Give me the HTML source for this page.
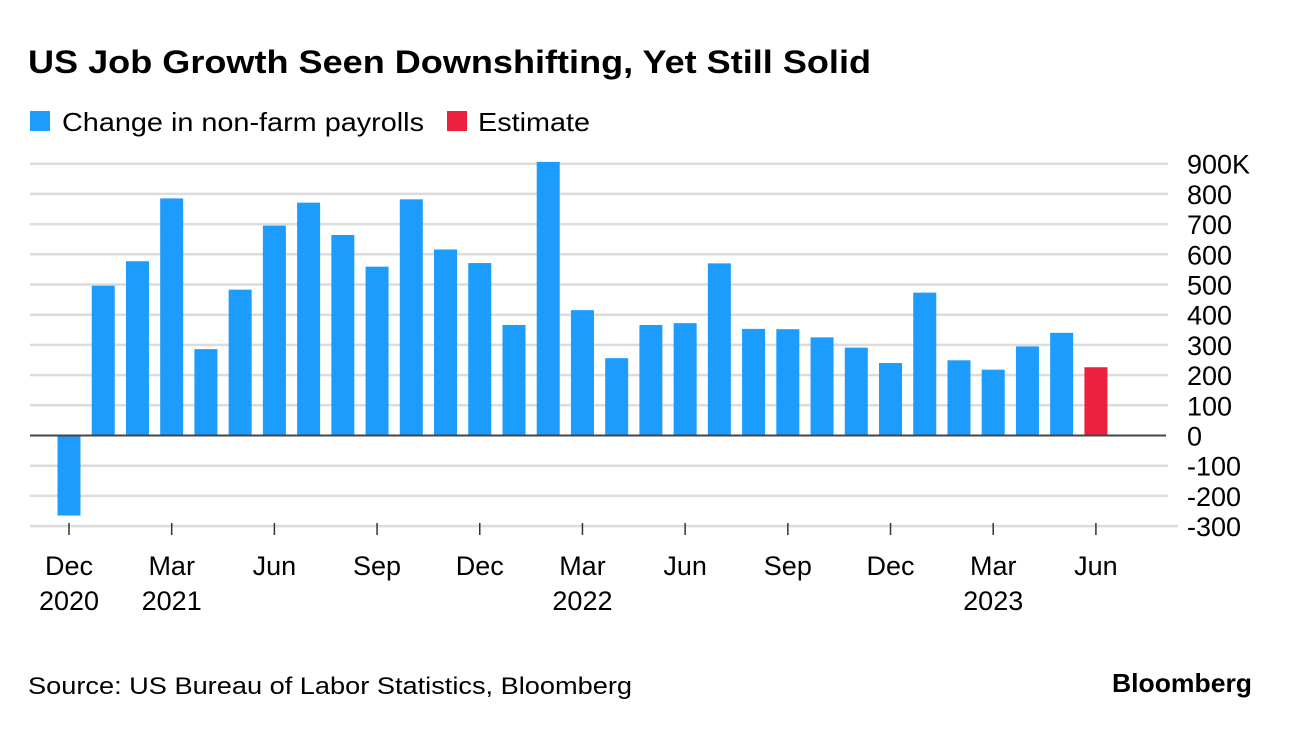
<!DOCTYPE html>
<html><head><meta charset="utf-8"><style>
body{margin:0;background:#fff;width:1292px;height:726px;overflow:hidden;font-family:"Liberation Sans",sans-serif;color:#000}
svg text{font-family:"Liberation Sans",sans-serif}
</style></head><body>
<svg width="1292" height="726">
<text x="28" y="73" font-size="32" font-weight="bold" textLength="843" lengthAdjust="spacingAndGlyphs">US Job Growth Seen Downshifting, Yet Still Solid</text>
<g>
<rect x="30" y="111" width="20" height="20" fill="#1c9cfc"/>
<text x="62" y="131" font-size="26" textLength="362" lengthAdjust="spacingAndGlyphs">Change in non-farm payrolls</text>
<rect x="447" y="111" width="20" height="20" fill="#ec2140"/>
<text x="478" y="131" font-size="26" textLength="112" lengthAdjust="spacingAndGlyphs">Estimate</text>
</g>
<g id="grid"></g><g id="bars"></g><g id="axes"></g>
<text x="28" y="694" font-size="24" textLength="604" lengthAdjust="spacingAndGlyphs">Source: US Bureau of Labor Statistics, Bloomberg</text>
<text x="1112" y="692" font-size="26" font-weight="bold" textLength="140" lengthAdjust="spacingAndGlyphs">Bloomberg</text>
</svg>
<script>
const values=[-265,496,577,785,286,483,695,771,664,559,782,616,571,366,906,415,256,366,372,570,353,352,325,291,240,473,249,218,295,340,226];
const isEstimate=[0,0,0,0,0,0,0,0,0,0,0,0,0,0,0,0,0,0,0,0,0,0,0,0,0,0,0,0,0,0,1];
const yTicks=[900,800,700,600,500,400,300,200,100,0,-100,-200,-300];
const xTickIdx=[0,3,6,9,12,15,18,21,24,27,30];
const xTickLine1=["Dec","Mar","Jun","Sep","Dec","Mar","Jun","Sep","Dec","Mar","Jun"];
const xTickLine2=["2020","2021","","","","2022","","","","2023",""];
const NS="http://www.w3.org/2000/svg";
const y0=435.5, pxPer=30.2/100;
const yS=v=>y0-v*pxPer;
const xS=i=>69+i*34.23;
function mk(t,a,p){const e=document.createElementNS(NS,t);for(const k in a)e.setAttribute(k,a[k]);p.appendChild(e);return e;}
const grid=document.getElementById('grid'),bars=document.getElementById('bars'),axes=document.getElementById('axes');
yTicks.forEach(v=>{
 if(v!==0){const l=mk('line',{x1:30,x2:v===-300?1178:1168,y1:yS(v),y2:yS(v),stroke:'#dcdcdc','stroke-width':2.5},grid);
 
 }
 const t=mk('text',{x:1187,y:yS(v)+10,'font-size':27},axes);
 t.textContent=v===900?'900K':String(v);
 
 
});
values.forEach((v,i)=>{
 const top=Math.min(yS(v),y0),h=Math.abs(yS(v)-y0);
 const r=mk('rect',{x:xS(i)-11.5,y:top,width:23,height:h,fill:isEstimate[i]?'#ec2140':'#1c9cfc'},bars);
 
 
});
const zl=mk('line',{x1:30,x2:1166,y1:y0,y2:y0,stroke:'#444','stroke-width':2},axes);


xTickIdx.forEach((idx,j)=>{
 const x=xS(idx);
 const tk=mk('line',{x1:x,x2:x,y1:523,y2:535,stroke:'#333','stroke-width':1.5},axes);
 
 
 const t=mk('text',{x:x,y:575,'font-size':27,'text-anchor':'middle'},axes);
 t.textContent=xTickLine1[j];
 
 
 if(xTickLine2[j]){const t2=mk('text',{x:x,y:610,'font-size':27,'text-anchor':'middle'},axes);
 t2.textContent=xTickLine2[j];
 
 }
});
</script>
</body></html>
